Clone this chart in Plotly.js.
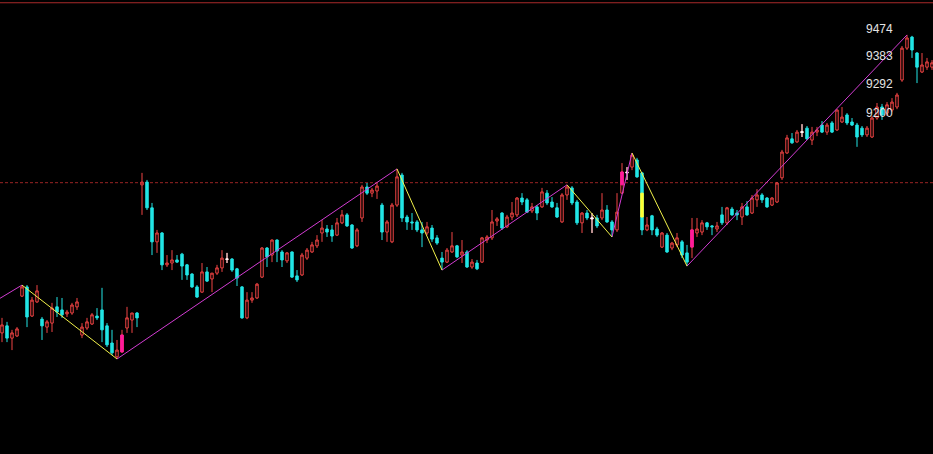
<!DOCTYPE html>
<html><head><meta charset="utf-8">
<script src="https://cdn.plot.ly/plotly-3.0.1.min.js"></script>
<style>html,body{margin:0;padding:0;background:#000;overflow:hidden}#chart{width:933px;height:454px}</style>
</head><body><div id="chart"></div>
<script>
// Candle values (price), one per trading bar, left to right
const openP  = [8481,8504,8464,8471,8601,8631,8536,8582,8526,8500,8513,8566,8556,8543,8546,8566,8474,8497,8510,8536,8556,8504,8448,8403,8419,8497,8523,8546,
8964,8973,8889,8778,8807,8703,8709,8719,8738,8703,8673,8631,8614,8680,8657,8676,8693,8721,8722,8690,8631,8530,8588,8595,8663,8758,8735,8784,8745,8716,8745,8667,8670,8725,8745,8765,8807,8820,8817,8800,8840,8866,8833,8765,8856,8957,8937,8944,8898,8810,8778,8898,8996,8859,8843,8843,8817,8807,8823,8791,
8725,8712,8745,8765,8735,8745,8696,8709,8712,8784,8791,8846,8872,8827,8859,8866,8921,8915,8879,8892,8892,8937,8908,8889,8843,8931,8954,8908,8840,8872,8853,8856,8856,8882,8843,8817,8937,9003,9022,9045,9003,8817,8863,8820,8761,8800,8758,8768,8778,8742,
8761,8807,8810,8840,8830,8820,8866,8840,8885,8872,8859,8892,8872,8915,8931,8921,8898,8908,8987,9068,9114,9104,9135,9149,9110,9136,9159,9136,9166,9143,9169,9192,9169,9159,9149,9127,9120,9182,9218,9198,9208,9218,9306,9410,9446,9394,9332,9348,9348];
const highP  = [8530,8517,8491,8500,8637,8637,8598,8637,8533,8523,8579,8598,8595,8556,8579,8595,8513,8530,8546,8562,8628,8513,8491,8458,8491,8566,8546,8549,
9003,8980,8905,8817,8810,8735,8751,8735,8742,8706,8676,8637,8709,8696,8676,8703,8751,8742,8725,8693,8634,8614,8614,8644,8761,8761,8786,8786,8751,8745,8747,8686,8742,8758,8778,8800,8849,8833,8833,8856,8882,8872,8836,8823,8964,8970,8954,8973,8905,8849,8905,9016,9003,8866,8872,8849,8843,8843,8833,8800,
8745,8758,8810,8768,8784,8751,8722,8719,8794,8800,8882,8859,8875,8866,8908,8924,8937,8921,8905,8898,8954,8947,8924,8905,8937,8964,8960,8915,8875,8882,8872,8866,8937,8898,8849,8937,9035,9022,9068,9052,9006,8859,8866,8827,8810,8807,8778,8807,8784,8768,
8856,8856,8849,8843,8833,8843,8892,8892,8892,8882,8905,8911,8931,8950,8937,8924,8924,8973,9078,9127,9133,9143,9162,9156,9153,9153,9172,9166,9172,9211,9218,9198,9182,9166,9156,9156,9189,9231,9228,9234,9247,9264,9417,9453,9450,9397,9394,9378,9371];
const lowP   = [8451,8451,8425,8468,8598,8500,8533,8579,8458,8481,8484,8533,8530,8533,8540,8556,8464,8491,8507,8523,8451,8435,8409,8396,8416,8481,8481,8500,
8866,8882,8735,8742,8686,8696,8686,8709,8654,8654,8628,8595,8612,8647,8614,8670,8680,8709,8680,8634,8527,8526,8579,8592,8660,8696,8712,8712,8696,8709,8660,8647,8667,8719,8742,8758,8778,8794,8778,8797,8836,8827,8755,8761,8843,8931,8924,8918,8784,8778,8774,8892,8843,8817,8817,8810,8761,8800,8778,8768,
8686,8709,8742,8725,8709,8693,8690,8686,8709,8774,8784,8830,8817,8823,8849,8859,8898,8872,8872,8849,8889,8898,8889,8856,8840,8915,8898,8833,8807,8849,8807,8823,8849,8840,8794,8810,8934,8980,9012,8987,8800,8813,8800,8794,8758,8742,8751,8761,8725,8699,
8725,8794,8800,8817,8800,8810,8833,8833,8863,8849,8833,8863,8869,8892,8905,8889,8895,8905,8980,9065,9098,9101,9120,9110,9094,9123,9133,9127,9133,9140,9166,9159,9156,9088,9120,9120,9117,9176,9176,9189,9202,9211,9300,9404,9378,9296,9329,9339,9339];
const closeP = [8507,8464,8481,8494,8631,8533,8588,8618,8504,8517,8562,8549,8540,8549,8572,8582,8500,8517,8540,8530,8491,8442,8416,8425,8474,8530,8546,8530,
8973,8889,8778,8807,8703,8709,8719,8712,8699,8670,8631,8598,8680,8650,8676,8693,8725,8722,8686,8660,8530,8588,8595,8640,8758,8729,8784,8748,8719,8742,8663,8654,8735,8751,8768,8784,8823,8810,8797,8840,8866,8830,8758,8817,8957,8937,8947,8960,8810,8843,8898,8990,8856,8843,8840,8817,8807,8827,8787,8774,
8712,8751,8765,8729,8745,8696,8712,8690,8791,8794,8843,8853,8823,8859,8872,8921,8908,8875,8892,8872,8941,8905,8892,8859,8931,8957,8905,8840,8872,8856,8856,8830,8882,8843,8817,8875,9006,9005,9061,8990,8817,8833,8817,8800,8807,8745,8774,8791,8735,8712,
8817,8820,8840,8827,8827,8830,8840,8889,8866,8866,8892,8866,8921,8931,8915,8892,8921,8970,9071,9117,9101,9136,9137,9114,9136,9143,9136,9159,9136,9208,9185,9166,9159,9120,9127,9149,9182,9218,9192,9225,9234,9257,9410,9443,9404,9348,9355,9365,9362];

// Highlighted bars
const dojiIdx = [45, 118, 125, 160];
const pinkIdx = [24, 124, 138];
const pinkOpen = [8419, 8964, 8761];
const pinkClose = [8474, 9006, 8817];
const yellowIdx = [128];
const yellowOpen = [8937];
const yellowClose = [8859];

// Zig-zag turning points (bar index, price)
const zzIdx   = [-1, 4, 23, 79, 88, 113, 122, 126, 137, 181];
const zzPrice = [8588, 8637, 8396, 9016, 8686, 8964, 8794, 9068, 8699, 9453];

// Reference levels and price labels
const refDashed = 8971;
const refTop = 9558;
const tickVals = [9474, 9383, 9292, 9200];
const tickText = ['9474', '9383', '9292', '9200'];

const yMin = 8086, yMax = 9567;
const idx = openP.map((_, i) => i);

const RED = '#f04444', CYAN = '#22e6e6';

const mainTrace = {
  type: 'candlestick', x: idx, open: openP, high: highP, low: lowP, close: closeP,
  increasing: {line: {color: RED, width: 1}, fillcolor: '#000000'},
  decreasing: {line: {color: CYAN, width: 1}, fillcolor: CYAN},
  hoverinfo: 'skip'
};
function overlay(ix, o, c, col) {
  return {
    type: 'candlestick', x: ix, open: o, close: c,
    high: o.map((v, k) => Math.max(v, c[k])), low: o.map((v, k) => Math.min(v, c[k])),
    increasing: {line: {color: col, width: 1}, fillcolor: col},
    decreasing: {line: {color: col, width: 1}, fillcolor: col},
    hoverinfo: 'skip'
  };
}
const pinkTrace = overlay(pinkIdx, pinkOpen, pinkClose, '#ff1a9c');
const yellowTrace = overlay(yellowIdx, yellowOpen, yellowClose, '#ffff33');
const dojiTrace = {
  type: 'candlestick', x: dojiIdx,
  open: dojiIdx.map(i => openP[i]), high: dojiIdx.map(i => highP[i]),
  low: dojiIdx.map(i => lowP[i]), close: dojiIdx.map(i => closeP[i]),
  increasing: {line: {color: '#ffffff', width: 1}, fillcolor: '#ffffff'},
  decreasing: {line: {color: '#ffffff', width: 1}, fillcolor: '#ffffff'},
  hoverinfo: 'skip'
};

const upX = [], upY = [], dnX = [], dnY = [];
for (let k = 0; k < zzIdx.length - 1; k++) {
  const rising = zzPrice[k + 1] > zzPrice[k];
  const X = rising ? upX : dnX, Y = rising ? upY : dnY;
  X.push(zzIdx[k], zzIdx[k + 1], null);
  Y.push(zzPrice[k], zzPrice[k + 1], null);
}
const upTrace = {type: 'scatter', mode: 'lines', x: upX, y: upY, line: {color: '#d23cd2', width: 1}, hoverinfo: 'skip', connectgaps: false};
const dnTrace = {type: 'scatter', mode: 'lines', x: dnX, y: dnY, line: {color: '#f2f24a', width: 1}, hoverinfo: 'skip', connectgaps: false};

const layout = {
  width: 933, height: 454,
  margin: {l: 0, r: 0, t: 0, b: 0, pad: 0},
  paper_bgcolor: '#000000', plot_bgcolor: '#000000',
  showlegend: false,
  boxgap: 0.3,
  xaxis: {range: [-0.4, 186.2], visible: false, showgrid: false, zeroline: false, rangeslider: {visible: false}, fixedrange: true},
  yaxis: {range: [yMin, yMax], visible: false, showgrid: false, zeroline: false, fixedrange: true},
  shapes: [
    {type: 'line', xref: 'paper', x0: 0, x1: 1, yref: 'y', y0: refDashed, y1: refDashed, layer: 'below',
     line: {color: '#9a2424', width: 1, dash: '3px,2px'}},
    {type: 'line', xref: 'paper', x0: 0, x1: 1, yref: 'y', y0: refTop, y1: refTop, layer: 'below',
     line: {color: '#a82a2a', width: 1}}
  ],
  annotations: tickVals.map((v, k) => ({
    xref: 'paper', x: 895 / 933, xanchor: 'right', yref: 'y', y: v, yanchor: 'middle',
    text: tickText[k], showarrow: false,
    font: {family: 'Liberation Sans, Arial, sans-serif', size: 12, color: '#e4e4e4'}
  }))
};

Plotly.newPlot('chart', [mainTrace, pinkTrace, yellowTrace, dojiTrace, upTrace, dnTrace], layout, {staticPlot: true, displayModeBar: false});
</script>
</body></html>
